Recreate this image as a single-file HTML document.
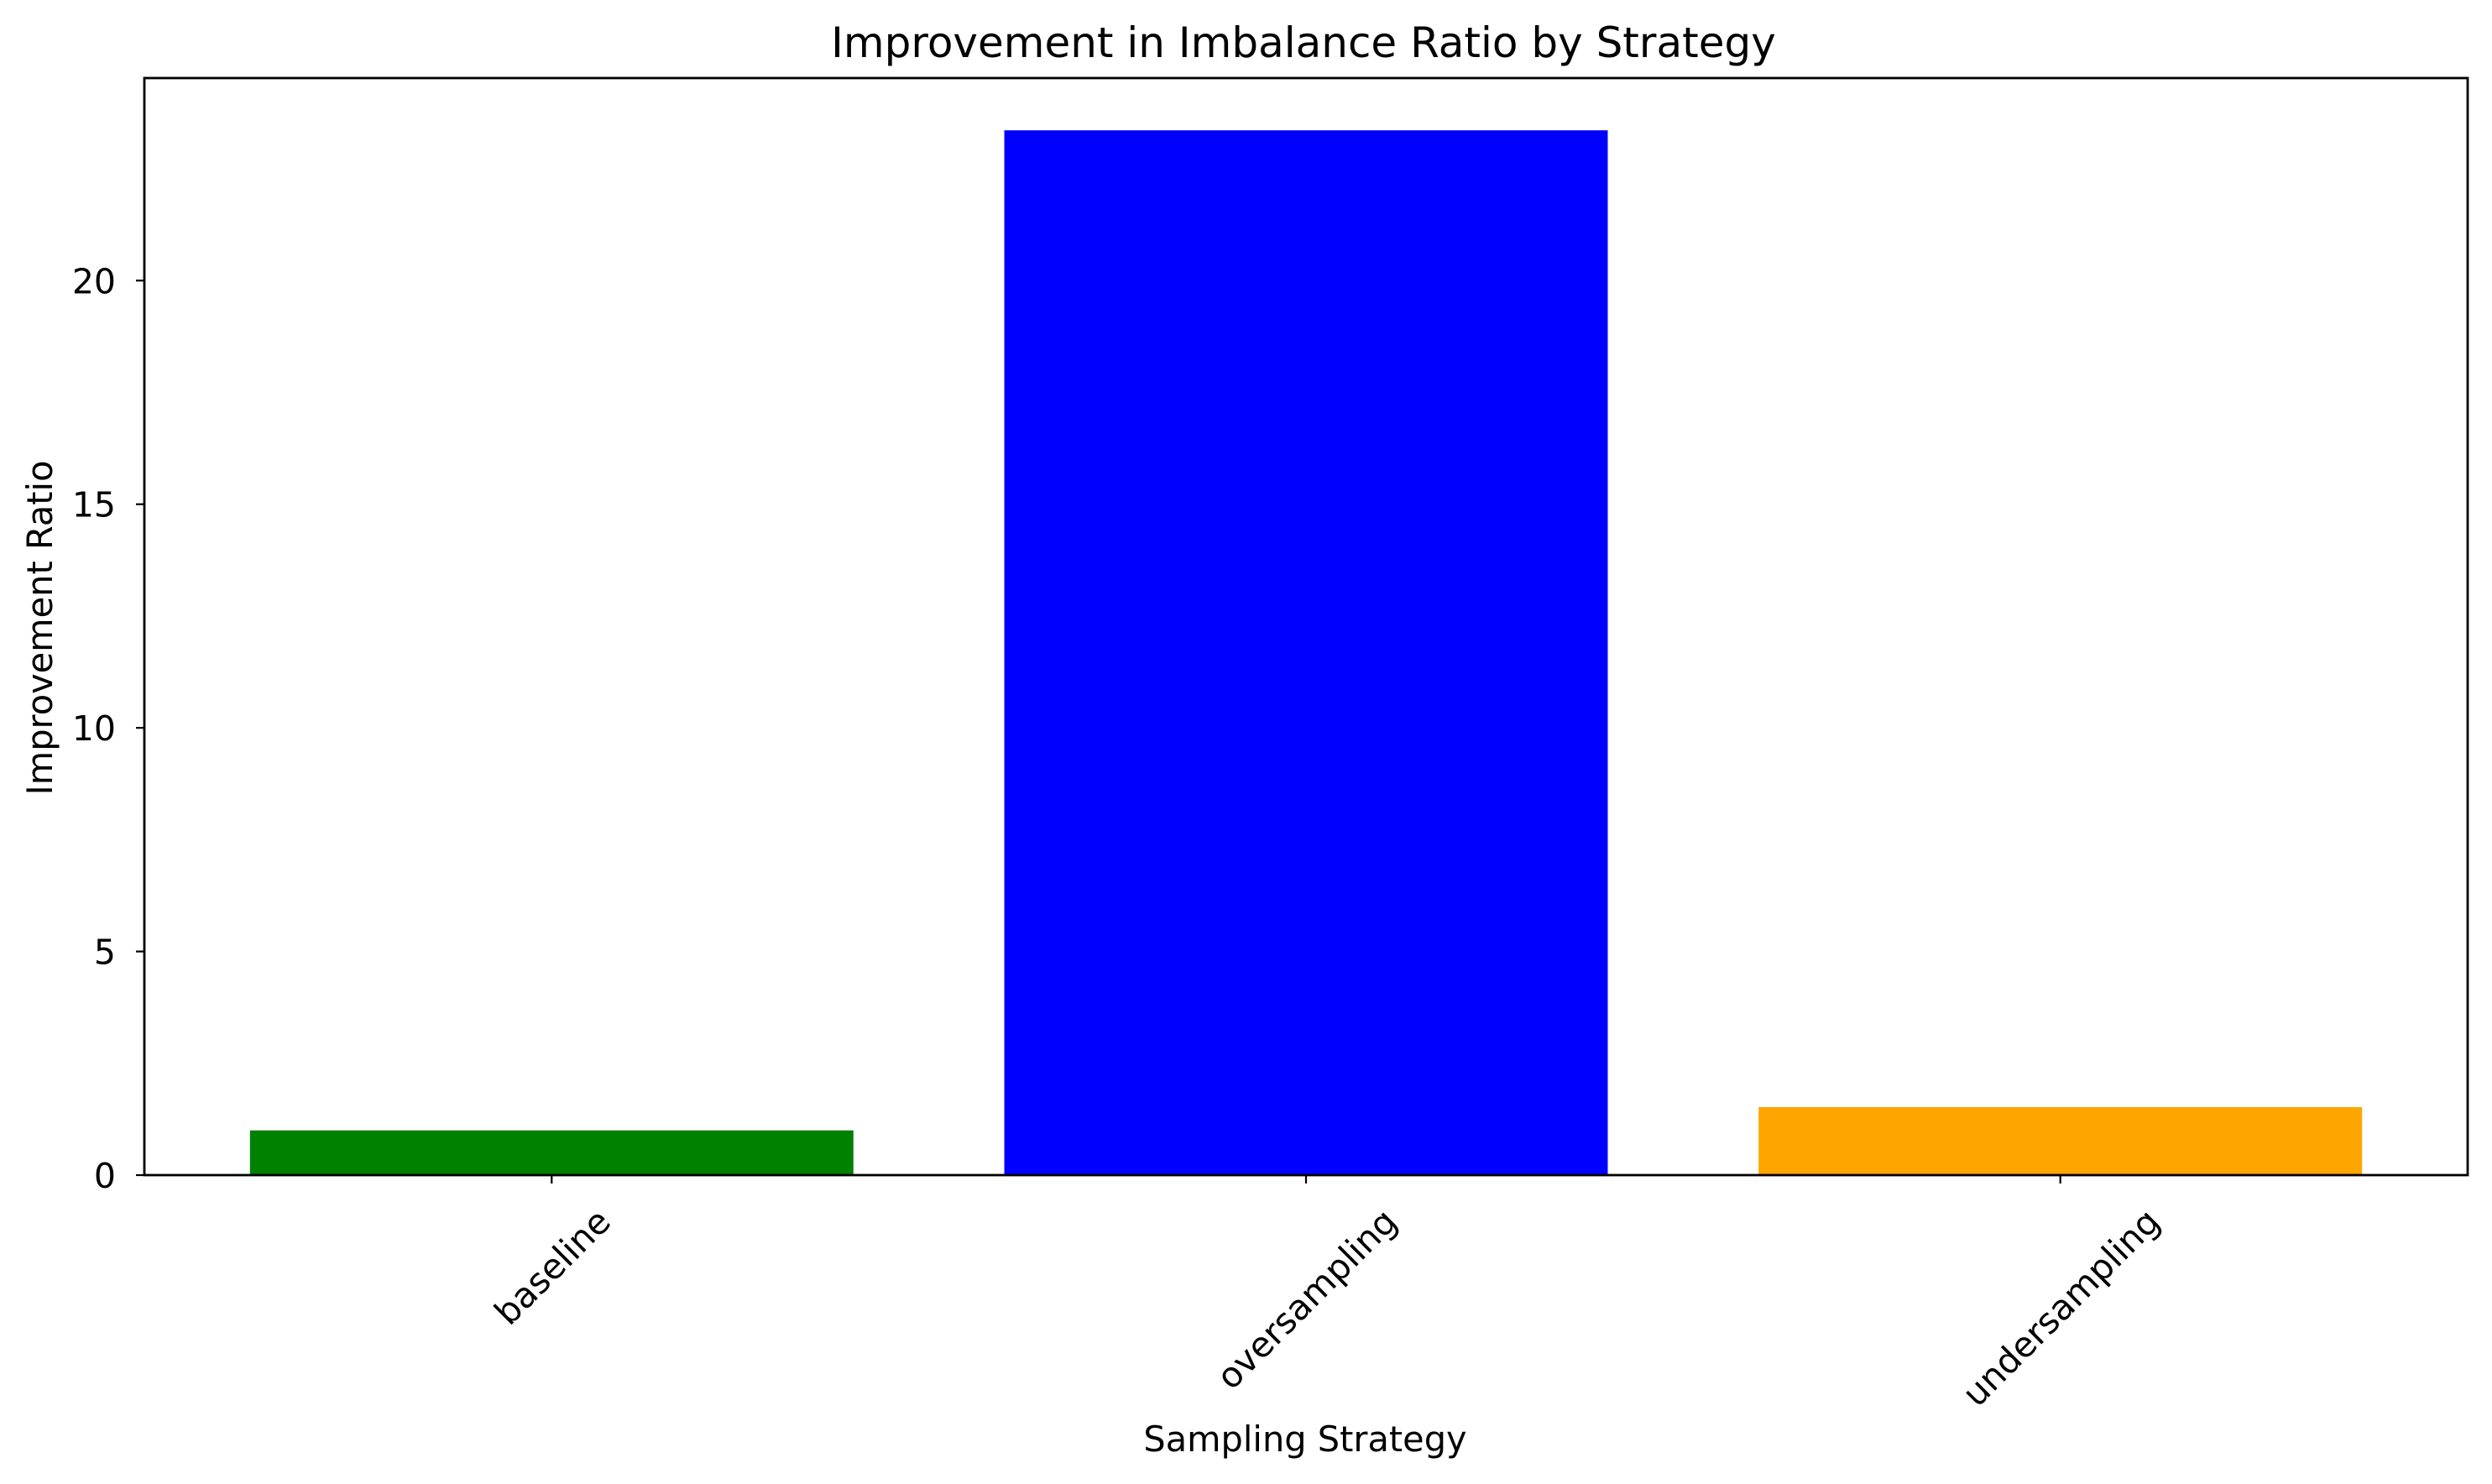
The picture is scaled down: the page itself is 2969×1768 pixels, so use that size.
<!DOCTYPE html>
<html><head><meta charset="utf-8"><style>
html,body{margin:0;padding:0;background:#fff}
svg{display:block}
text{font-family:"DejaVu Sans","Liberation Sans",sans-serif;fill:#000}
</style></head><body>
<svg id="chart" width="2969" height="1768" viewBox="0 0 2969 1768" xmlns="http://www.w3.org/2000/svg">
<rect x="0" y="0" width="2969" height="1768" fill="#fff"/>
<text x="1553" y="68" font-size="50" text-anchor="middle">Improvement in Imbalance Ratio by Strategy</text>
<text x="1555" y="1729" font-size="41.5" text-anchor="middle">Sampling Strategy</text>
<text transform="translate(62,748) rotate(-90)" font-size="41.5" text-anchor="middle">Improvement Ratio</text>
<g id="bars"></g>
<g id="yticks"></g>
<g id="xticks"></g>
<rect x="172" y="93" width="2768" height="1307" fill="none" stroke="#000" stroke-width="2.8"/>
</svg>
<script>
const categories = ["baseline", "oversampling", "undersampling"];
const values = [1.0, 23.36, 1.52];
const colors = ["green", "blue", "orange"];
const yTicks = [0, 5, 10, 15, 20];
const yTickLabels = ["0", "5", "10", "15", "20"];

const L = 172, R = 2940, T = 93, B = 1400;
const xMin = -0.54, xMax = 2.54;
const yMax = Math.max(...values) * 1.05;
function xs(v){ return L + (v - xMin) / (xMax - xMin) * (R - L); }
function ys(v){ return B - v / yMax * (B - T); }
const NS = "http://www.w3.org/2000/svg";
function mk(tag, attrs){ const e = document.createElementNS(NS, tag); for (const k in attrs) e.setAttribute(k, attrs[k]); return e; }

const bars = document.getElementById("bars");
categories.forEach((c, i) => {
  const x0 = xs(i - 0.4), x1 = xs(i + 0.4);
  const r = mk("rect", {x: x0, y: ys(values[i]), width: x1 - x0, height: B - ys(values[i]), fill: colors[i]});
  
  
  bars.appendChild(r);
});

const yg = document.getElementById("yticks");
yTicks.forEach((t, i) => {
  const y = ys(t);
  const ln = mk("line", {x1: L - 10, x2: L, y1: y, y2: y, stroke: "#000", "stroke-width": 2.2});
  
  
  yg.appendChild(ln);
  const tx = mk("text", {x: 138, y: y + 15, "font-size": 41, "text-anchor": "end"});
  tx.textContent = yTickLabels[i];
  
  
  yg.appendChild(tx);
});

const xg = document.getElementById("xticks");
categories.forEach((c, i) => {
  const x = xs(i);
  const ln = mk("line", {x1: x, x2: x, y1: B, y2: B + 10, stroke: "#000", "stroke-width": 2.2});
  
  
  xg.appendChild(ln);
  const tx = mk("text", {x: 0, y: 0, "font-size": 41.5, "text-anchor": "middle"});
  tx.textContent = c;
  
  
  xg.appendChild(tx);
  const w = tx.getComputedTextLength();
  const h = 41.5 * 0.75;
  const bh = (w + h) * Math.SQRT1_2;
  const cy = 1436 + bh / 2;
  tx.setAttribute("transform", "translate(" + x + "," + cy + ") rotate(-45) translate(0," + (h / 2) + ")");
});
</script>
</body></html>
